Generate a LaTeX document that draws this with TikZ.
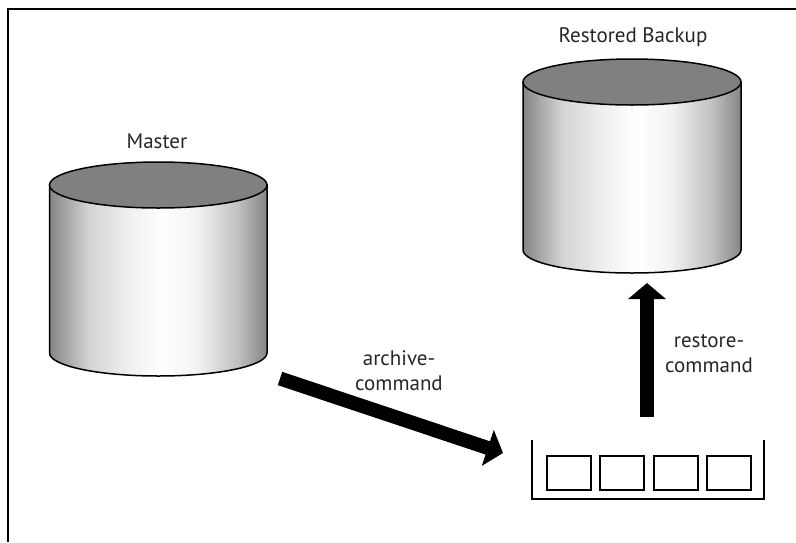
\documentclass[tikz,border=0pt]{standalone}
\usepackage{fontspec}
\setmainfont{PT Sans}
\usetikzlibrary{arrows.meta}

\definecolor{lidgray}{gray}{0.5}
\definecolor{labelgray}{gray}{0.15}

\pgfdeclarehorizontalshading{cylshade}{100bp}{
    color(0bp)=(black!48); color(25bp)=(black!48); color(34bp)=(black!17);
    color(43.5bp)=(black!6); color(51bp)=(white); color(59bp)=(black!5);
    color(68.5bp)=(black!25); color(75bp)=(black!48); color(100bp)=(black!48)}

\tikzset{
    frameline/.style={line width=2pt},
    cylside/.style={draw, line width=1.5pt, shading=cylshade},
    cyllid/.style={draw, line width=1.5pt, fill=lidgray},
    bigarrow/.style={line width=14pt, -{Triangle[length=16pt,width=37pt]}},
    slot/.style={draw, line width=2pt, minimum width=44pt, minimum height=34pt, inner sep=0pt},
    lbl/.style={font=\fontsize{21}{25}\selectfont, text=labelgray, align=center}
}

\begin{document}
\begin{tikzpicture}[x=1pt,y=-1pt]
    \useasboundingbox (0,0) rectangle (796,542);
    \draw[frameline] (7.5,542) -- (7.5,9) -- (796,9);

    % master
    \path[cylside] (49.5,185) -- (49.5,353) arc[x radius=108.75pt, y radius=23pt, start angle=180, end angle=360] -- (267,185) -- cycle;
    \path[cyllid] (158.25,185) ellipse [x radius=108.75pt, y radius=23pt];
    \node[lbl] (master) at (157,141) {Master};

    % restored backup
    \path[cylside] (523,82) -- (523,250) arc[x radius=109pt, y radius=23pt, start angle=180, end angle=360] -- (741,82) -- cycle;
    \path[cyllid] (632,82) ellipse [x radius=109pt, y radius=23pt];
    \node[lbl] (restored) at (633,37) {Restored Backup};

    % tray
    \draw[frameline] (532,440) -- (532,499) -- (764,499) -- (764,440);
    \node[slot] (slot1) at (568.8,472.5) {};
    \node[slot] (slot2) at (622.2,472.5) {};
    \node[slot] (slot3) at (675.5,472.5) {};
    \node[slot] (slot4) at (728.8,472.5) {};

    % arrows
    \coordinate (archivestart) at (280,378.5);
    \coordinate (archiveend) at (503,453);
    \coordinate (restorestart) at (647,417);
    \coordinate (restoreend) at (647,283);
    \draw[bigarrow] (archivestart) -- (archiveend);
    \draw[bigarrow] (restorestart) -- (restoreend);

    \node[lbl] (archive) at (399,371) {archive-\\command};
    \node[lbl] (restore) at (709,354) {restore-\\command};
\end{tikzpicture}
\end{document}
